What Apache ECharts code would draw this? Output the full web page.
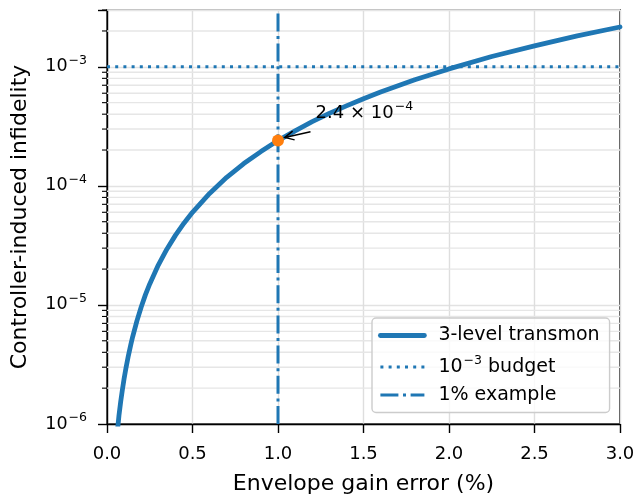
<!DOCTYPE html>
<html>
<head>
<meta charset="utf-8">
<script src="https://cdn.jsdelivr.net/npm/echarts@6/dist/echarts.min.js"></script>
<style>
  html, body { margin: 0; padding: 0; background: #fff; }
  #chart { width: 637px; height: 495px; }
</style>
</head>
<body>
<div id="chart"></div>
<script>
// gain error (%) and infidelity
const gainError = [0.05, 0.06, 0.065, 0.07, 0.08, 0.09, 0.1, 0.11, 0.125, 0.14, 0.15, 0.175,
  0.2, 0.225, 0.25, 0.3, 0.35, 0.4, 0.45, 0.5, 0.6, 0.7, 0.8, 0.9, 1.0, 1.1, 1.2, 1.3, 1.4,
  1.5, 1.6, 1.8, 2.0, 2.25, 2.5, 2.75, 3.0]
const infidelity = [6.0e-7, 8.6e-7, 1.0e-6, 1.18e-6, 1.54e-6, 1.94e-6, 2.4e-6, 2.9e-6, 3.75e-6,
  4.7e-6, 5.4e-6, 7.35e-6, 9.6e-6, 1.22e-5, 1.5e-5, 2.16e-5, 2.94e-5, 3.84e-5, 4.86e-5, 6.0e-5,
  8.64e-5, 1.18e-4, 1.54e-4, 1.94e-4, 2.4e-4, 2.9e-4, 3.46e-4, 4.06e-4, 4.7e-4, 5.4e-4,
  6.14e-4, 7.78e-4, 9.6e-4, 1.22e-3, 1.5e-3, 1.82e-3, 2.16e-3]

const budgetLevel = 1e-3
const exampleError = 1.0
const exampleInfidelity = 2.4e-4

const xMin = 0
const xMax = 3
const xInterval = 0.5
const yMin = 1e-6
const yMax = 3e-3

// minor log ticks 2..9 x 10^n
const minorTicks = []
for (let e = -6; e <= -3; e++) {
  for (let m = 2; m <= 9; m++) {
    const v = m * Math.pow(10, e)
    if (v <= yMax * 1.0001) minorTicks.push(v)
  }
}

const seriesNames = ['3-level transmon', '10^-3 budget', '1% example']

const blue = '#1f77b4'
const orange = '#ff7f0e'
const font = 'DejaVu Sans'
const supStyle = { fontFamily: font, fontSize: 12.5, color: '#000', padding: [0, 0, 13, 1] }

const chart = echarts.init(document.getElementById('chart'))

const opt = {
  animation: false,
  textStyle: { fontFamily: font, color: '#000' },
  grid: {
    left: 107, right: 17, top: 10, bottom: 71,
    show: true,
    borderColor: '#000',
    borderWidth: 1.4,
    outerBoundsMode: 'none',
  },
  legend: {
    orient: 'vertical',
    left: 372,
    top: 318,
    padding: [8, 10, 8, 6],
    itemGap: 9,
    itemWidth: 44,
    itemHeight: 14,
    backgroundColor: 'rgba(255,255,255,0.8)',
    borderColor: '#cccccc',
    borderWidth: 1.4,
    borderRadius: 4,
    lineStyle: { width: 'inherit' },
    // no marker on the legend lines
    itemStyle: { color: 'rgba(0,0,0,0)', borderWidth: 0, opacity: 0 },
    data: seriesNames,
    formatter: name => {
      if (name === seriesNames[1]) return '{n|10}{sup|−3}{n| budget}'
      return '{n|' + name + '}'
    },
    textStyle: {
      padding: [0, 0, 0, 9],
      rich: {
        n: { fontFamily: font, fontSize: 19, color: '#000' },
        sup: supStyle,
      },
    },
  },
  xAxis: {
    type: 'value',
    min: xMin,
    max: xMax,
    interval: xInterval,
    name: 'Envelope gain error (%)',
    nameLocation: 'middle',
    nameGap: 49,
    nameTextStyle: { fontFamily: font, fontSize: 22, color: '#000' },
    axisLine: { show: true, lineStyle: { color: '#000', width: 1.4 } },
    axisTick: { show: true, length: 9, lineStyle: { color: '#000', width: 1.4 } },
    axisLabel: {
      fontFamily: font, fontSize: 18, color: '#000', margin: 21,
      formatter: v => v.toFixed(1),
    },
    splitLine: { show: true, lineStyle: { color: '#dedede', width: 1.4 } },
  },
  yAxis: {
    type: 'log',
    logBase: 10,
    min: yMin,
    max: yMax,
    name: 'Controller-induced infidelity',
    nameLocation: 'middle',
    nameGap: 76,
    nameTextStyle: { fontFamily: font, fontSize: 22, color: '#000' },
    axisLine: { show: true, lineStyle: { color: '#000', width: 1.4 } },
    axisTick: { show: true, length: 9, lineStyle: { color: '#000', width: 1.4 } },
    axisLabel: {
      margin: 20,
      formatter: v => {
        const e = Math.log10(v)
        if (Math.abs(e - Math.round(e)) > 1e-6) return ''
        return '{b|10}{sup|−' + (-Math.round(e)) + '}'
      },
      rich: {
        b: { fontFamily: font, fontSize: 17.5, color: '#000' },
        sup: supStyle,
      },
    },
    splitLine: { show: true, lineStyle: { color: '#e2e2e2', width: 1.4 } },
  },
  series: [
    {
      // minor grid lines and minor ticks on the log axis
      type: 'custom',
      silent: true,
      clip: false,
      z: 1,
      data: minorTicks.map(v => [xMin, v]),
      encode: { x: 0, y: 1 },
      renderItem: (params, api) => {
        const v = api.value(1)
        const p0 = api.coord([xMin, v])
        const p1 = api.coord([xMax, v])
        return {
          type: 'group',
          children: [
            {
              type: 'line',
              shape: { x1: p0[0], y1: p0[1], x2: p1[0], y2: p1[1] },
              style: { stroke: '#e6e6e6', lineWidth: 1.4 },
            },
            {
              type: 'line',
              shape: { x1: p0[0] - 5, y1: p0[1], x2: p0[0], y2: p0[1] },
              style: { stroke: '#000', lineWidth: 1.1 },
            },
          ],
        }
      },
    },
    {
      name: seriesNames[1],
      type: 'line',
      symbol: 'none',
      z: 3,
      data: [[xMin, budgetLevel], [xMax, budgetLevel]],
      lineStyle: { color: blue, width: 3, type: [3, 5.2], cap: 'butt' },
      itemStyle: { color: blue },
    },
    {
      name: seriesNames[2],
      type: 'line',
      symbol: 'none',
      z: 3,
      data: [[exampleError, yMin], [exampleError, yMax]],
      lineStyle: { color: blue, width: 3, type: [18, 4.6, 3, 4.6], cap: 'butt' },
      itemStyle: { color: blue },
    },
    {
      name: seriesNames[0],
      type: 'line',
      symbol: 'none',
      z: 4,
      data: gainError.map((x, i) => [x, infidelity[i]]),
      lineStyle: { color: blue, width: 4.8, join: 'round', cap: 'round' },
      itemStyle: { color: blue },
    },
    {
      type: 'scatter',
      z: 6,
      symbolSize: 12,
      data: [[exampleError, exampleInfidelity]],
      itemStyle: { color: orange, opacity: 1 },
    },
    {
      // annotation arrow, tip at the point
      type: 'custom',
      silent: true,
      clip: false,
      z: 7,
      data: [[1.04, 2.55e-4, 1.19, 2.85e-4]],
      encode: { x: [0, 2], y: [1, 3] },
      renderItem: (params, api) => {
        const tip = api.coord([api.value(0), api.value(1)])
        const tail = api.coord([api.value(2), api.value(3)])
        const dx = tip[0] - tail[0]
        const dy = tip[1] - tail[1]
        const len = Math.sqrt(dx * dx + dy * dy)
        const ux = dx / len
        const uy = dy / len
        const hl = 9
        const hw = 4.5
        const bx = tip[0] - ux * hl
        const by = tip[1] - uy * hl
        return {
          type: 'group',
          children: [
            {
              type: 'line',
              shape: { x1: tail[0], y1: tail[1], x2: tip[0], y2: tip[1] },
              style: { stroke: '#000', lineWidth: 1.5 },
            },
            {
              type: 'polyline',
              shape: { points: [[bx - uy * hw, by + ux * hw], tip, [bx + uy * hw, by - ux * hw]] },
              style: { stroke: '#000', lineWidth: 1.5, fill: null },
            },
          ],
        }
      },
    },
    {
      // annotation text
      type: 'custom',
      silent: true,
      clip: false,
      z: 7,
      data: [[1.22, 4.1e-4]],
      encode: { x: 0, y: 1 },
      renderItem: (params, api) => {
        const p = api.coord([api.value(0), api.value(1)])
        return {
          type: 'text',
          x: p[0],
          y: p[1],
          style: {
            text: '{m|2.4 × 10}{sup|−4}',
            align: 'left',
            verticalAlign: 'middle',
            rich: {
              m: { fontFamily: font, fontSize: 18, color: '#000' },
              sup: supStyle,
            },
          },
        }
      },
    },
  ],
}

chart.setOption(opt)
</script>
</body>
</html>
